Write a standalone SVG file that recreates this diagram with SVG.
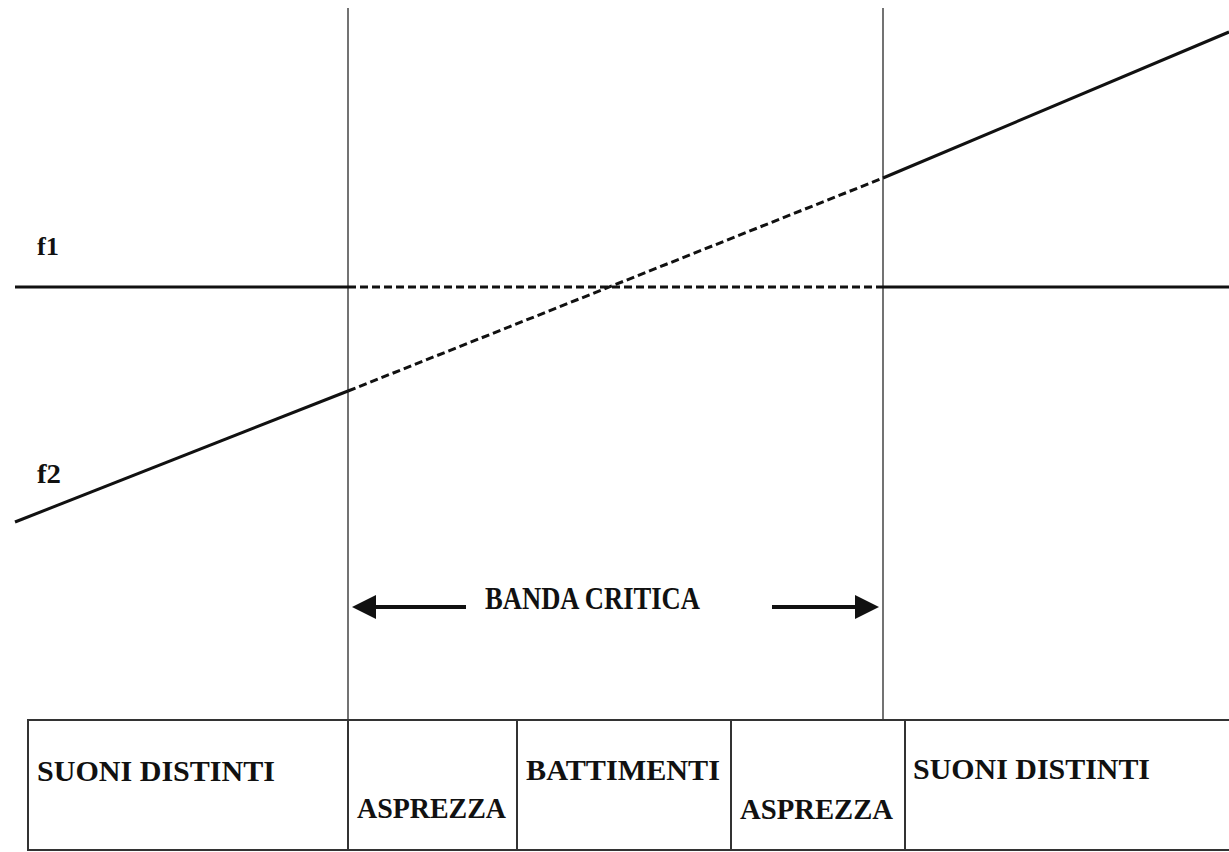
<svg xmlns="http://www.w3.org/2000/svg" width="1229" height="852" viewBox="0 0 1229 852">
<style>
.t{font-family:"Liberation Serif","Times New Roman",serif;font-weight:bold;fill:#111}
.curve{stroke:#111;stroke-width:3;fill:none}
.dash{stroke-dasharray:8 4}
.vline{stroke:#444;stroke-width:1.5}
.cell{fill:none;stroke:#333;stroke-width:2}
.arr{stroke:#111;stroke-width:4}
</style>
<defs>
<marker id="ah" markerWidth="6" markerHeight="6" refX="5" refY="3" orient="auto" markerUnits="strokeWidth" viewBox="0 0 6 6">
<path d="M0,0 L6,3 L0,6 Z" fill="#111"/>
</marker>
</defs>
<rect width="1229" height="852" fill="#fff"/>
<g id="boundaries">
<line class="vline" x1="348" y1="8" x2="348" y2="720"/>
<line class="vline" x1="883" y1="8" x2="883" y2="720"/>
</g>
<g id="f1">
<line class="curve" x1="15" y1="287" x2="348" y2="287"/>
<line class="curve dash" x1="348" y1="287" x2="883" y2="287"/>
<line class="curve" x1="883" y1="287" x2="1229" y2="287"/>
<text class="t" x="37" y="255" font-size="25" textLength="22" lengthAdjust="spacingAndGlyphs">f1</text>
</g>
<g id="f2">
<line class="curve" x1="15" y1="522" x2="348" y2="391"/>
<line class="curve dash" x1="348" y1="391" x2="883" y2="178"/>
<line class="curve" x1="883" y1="178" x2="1229" y2="32"/>
<text class="t" x="37" y="483" font-size="27" textLength="24" lengthAdjust="spacingAndGlyphs">f2</text>
</g>
<g id="connectors">
<line class="arr" x1="466" y1="607" x2="356" y2="607" marker-end="url(#ah)"/>
<line class="arr" x1="772" y1="607" x2="875" y2="607" marker-end="url(#ah)"/>
</g>
<g id="banda-critica">
<text class="t" x="485" y="609" font-size="31" textLength="215" lengthAdjust="spacingAndGlyphs">BANDA CRITICA</text>
</g>
<g id="cell-suoni-1">
<rect class="cell" x="28" y="720" width="320" height="130"/>
<text class="t" x="37" y="781" font-size="29" textLength="238" lengthAdjust="spacingAndGlyphs">SUONI DISTINTI</text>
</g>
<g id="cell-asprezza-1">
<rect class="cell" x="348" y="720" width="169" height="130"/>
<text class="t" x="357" y="818" font-size="29" textLength="149" lengthAdjust="spacingAndGlyphs">ASPREZZA</text>
</g>
<g id="cell-battimenti">
<rect class="cell" x="517" y="720" width="214" height="130"/>
<text class="t" x="526" y="780" font-size="29" textLength="194" lengthAdjust="spacingAndGlyphs">BATTIMENTI</text>
</g>
<g id="cell-asprezza-2">
<rect class="cell" x="731" y="720" width="174" height="130"/>
<text class="t" x="740" y="819" font-size="29" textLength="153" lengthAdjust="spacingAndGlyphs">ASPREZZA</text>
</g>
<g id="cell-suoni-2">
<rect class="cell" x="905" y="720" width="330" height="130"/>
<text class="t" x="913" y="779" font-size="29" textLength="237" lengthAdjust="spacingAndGlyphs">SUONI DISTINTI</text>
</g>
</svg>
